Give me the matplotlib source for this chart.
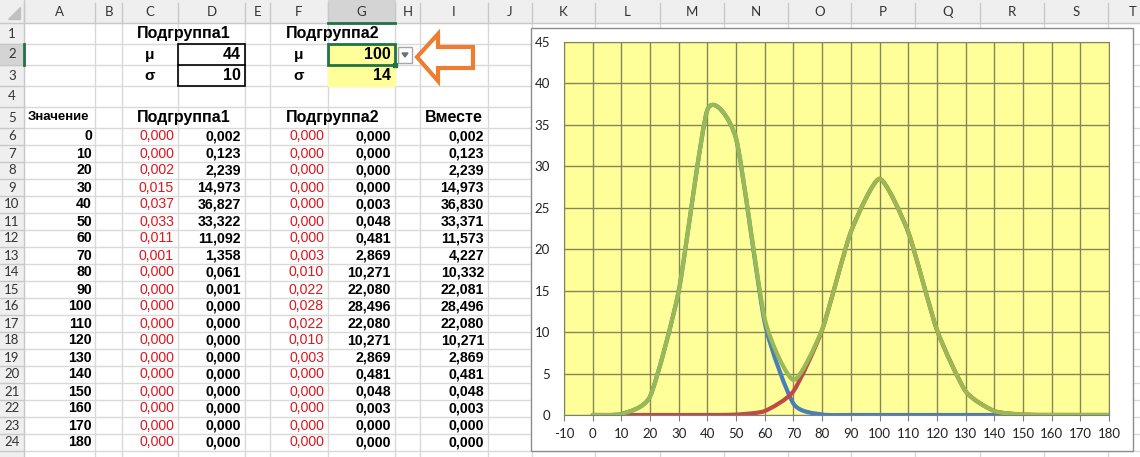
import numpy as np
import matplotlib
matplotlib.use("Agg")
import matplotlib.pyplot as plt
from matplotlib.patches import Rectangle, Polygon, PathPatch
from matplotlib.path import Path

plt.rcParams["axes.unicode_minus"] = False

# данные листа
values = [0, 10, 20, 30, 40, 50, 60, 70, 80, 90, 100, 110, 120, 130, 140, 150, 160, 170, 180]
dens1 = [0.000, 0.000, 0.002, 0.015, 0.037, 0.033, 0.011, 0.001, 0.000, 0.000,
         0.000, 0.000, 0.000, 0.000, 0.000, 0.000, 0.000, 0.000, 0.000]
group1 = [0.002, 0.123, 2.239, 14.973, 36.827, 33.322, 11.092, 1.358, 0.061, 0.001,
          0.000, 0.000, 0.000, 0.000, 0.000, 0.000, 0.000, 0.000, 0.000]
dens2 = [0.000, 0.000, 0.000, 0.000, 0.000, 0.000, 0.000, 0.003, 0.010, 0.022,
         0.028, 0.022, 0.010, 0.003, 0.000, 0.000, 0.000, 0.000, 0.000]
group2 = [0.000, 0.000, 0.000, 0.000, 0.003, 0.048, 0.481, 2.869, 10.271, 22.080,
          28.496, 22.080, 10.271, 2.869, 0.481, 0.048, 0.003, 0.000, 0.000]
total = [0.002, 0.123, 2.239, 14.973, 36.830, 33.371, 11.573, 4.227, 10.332, 22.081,
         28.496, 22.080, 10.271, 2.869, 0.481, 0.048, 0.003, 0.000, 0.000]
mu1, sigma1 = 44, 10
mu2, sigma2 = 100, 14

col_letters = list("ABCDEFGHIJKLMNOPQRST")
col_edges = [0, 24, 95, 122, 178, 245, 270, 328, 395, 420, 488, 532,
             595, 660, 724, 788, 851, 915, 980, 1044, 1108, 1160]
row_edges = [0, 23] + [23 + 21 * k for k in range(1, 6)] + [128 + 17 * k for k in range(1, 21)]

W, H = 1140, 457
fig = plt.figure(figsize=(W / 100, H / 100), dpi=100)
ax = fig.add_axes([0, 0, 1, 1])
ax.set_xlim(0, W)
ax.set_ylim(H, 0)
ax.axis("off")

cell_font = "Liberation Sans"
hdr_font = "Lato"
grid_c = "#d9d9d9"
sel_c = "#217346"


def row_mid(r):
    return (row_edges[r] + row_edges[r + 1]) / 2


def fmt(v):
    return f"{v:.3f}".replace(".", ",")


# сетка листа
for x in col_edges[2:]:
    ax.plot([x, x], [23, H], color=grid_c, lw=1, zorder=1)
for y in row_edges[2:]:
    ax.plot([24, W], [y, y], color=grid_c, lw=1, zorder=1)

# заголовки столбцов и строк
ax.add_patch(Rectangle((0, 0), W, 23, color="#efefef", zorder=2))
ax.add_patch(Rectangle((0, 0), 24, H, color="#efefef", zorder=2))
ax.add_patch(Rectangle((328, 0), 67, 23, color="#d4d4d4", zorder=2))
ax.add_patch(Rectangle((0, 44), 24, 21, color="#d4d4d4", zorder=2))
ax.plot([0, W], [23, 23], color="#c8c8c8", lw=1, zorder=3)
ax.plot([24, 24], [0, H], color="#c8c8c8", lw=1, zorder=3)
ax.plot([328, 395], [22.5, 22.5], color=sel_c, lw=2, zorder=4)
ax.plot([23.5, 23.5], [44, 65], color=sel_c, lw=2, zorder=4)
ax.add_patch(Polygon([(8, 19), (20, 19), (20, 7)], color="#c0c0c0", zorder=3))
for i, x in enumerate(col_edges[1:-1]):
    ax.plot([x, x], [3, 23], color="#c8c8c8", lw=1, zorder=3)
    cx = min((x + col_edges[i + 2]) / 2, 1133)
    ax.text(cx, 12, col_letters[i], ha="center", va="center", fontsize=9.5,
            family=hdr_font, color="#333333", zorder=5)
for r in range(1, 25):
    ax.plot([0, 24], [row_edges[r + 1]] * 2, color="#c8c8c8", lw=1, zorder=3)
    ax.text(12, row_mid(r), str(r), ha="center", va="center", fontsize=9.5,
            family=hdr_font, color="#333333", zorder=5)

# блок параметров
ax.add_patch(Rectangle((328, 44), 67, 42, color="#ffff99", zorder=2))
ax.add_patch(Rectangle((178, 44), 67, 42, fill=False, ec="black", lw=1.2, zorder=4))
ax.plot([178, 245], [65, 65], color="black", lw=1.2, zorder=4)
ax.add_patch(Rectangle((328, 44), 67, 21, fill=False, ec=sel_c, lw=2, zorder=4))
ax.add_patch(Rectangle((393, 63), 4, 4, color=sel_c, zorder=5))
ax.add_patch(Rectangle((398, 47), 14, 16, fc="white", ec="#a6a6a6", lw=1, zorder=5))
ax.add_patch(Polygon([(402, 53), (408, 53), (405, 57)], color="#707070", zorder=6))
arrow = [(417, 57), (438, 34), (438, 47), (473, 47), (473, 68), (438, 68), (438, 81)]
ax.add_patch(Polygon(arrow, fc="white", ec="#ed7d31", lw=3, joinstyle="miter", zorder=6))

bold = dict(family=cell_font, fontweight="bold", va="center", zorder=5)
ax.text(183.5, row_mid(1), "Подгруппа1", ha="center", fontsize=11.5, **bold)
ax.text(332.5, row_mid(1), "Подгруппа2", ha="center", fontsize=11.5, **bold)
ax.text(150, row_mid(2), "μ", ha="center", fontsize=11, **bold)
ax.text(150, row_mid(3), "σ", ha="center", fontsize=11, **bold)
ax.text(299, row_mid(2), "μ", ha="center", fontsize=11, **bold)
ax.text(299, row_mid(3), "σ", ha="center", fontsize=11, **bold)
ax.text(241, row_mid(2), str(mu1), ha="right", fontsize=11.5, **bold)
ax.text(241, row_mid(3), str(sigma1), ha="right", fontsize=11.5, **bold)
ax.text(391, row_mid(2), str(mu2), ha="right", fontsize=11.5, **bold)
ax.text(391, row_mid(3), str(sigma2), ha="right", fontsize=11.5, **bold)

ax.text(28, row_mid(5), "Значение", ha="left", fontsize=9.5, **bold)
ax.text(183.5, row_mid(5), "Подгруппа1", ha="center", fontsize=11.5, **bold)
ax.text(332.5, row_mid(5), "Подгруппа2", ha="center", fontsize=11.5, **bold)
ax.text(454, row_mid(5), "Вместе", ha="center", fontsize=11.5, **bold)

fs = 10.2
for i in range(len(values)):
    y = row_mid(6 + i)
    ax.text(92, y, str(values[i]), ha="right", fontsize=fs, **bold)
    ax.text(174, y, fmt(dens1[i]), ha="right", va="center", fontsize=fs,
            family=cell_font, color="#e0161d", zorder=5)
    ax.text(241, y, fmt(group1[i]), ha="right", fontsize=fs, **bold)
    ax.text(324, y, fmt(dens2[i]), ha="right", va="center", fontsize=fs,
            family=cell_font, color="#e0161d", zorder=5)
    ax.text(391, y, fmt(group2[i]), ha="right", fontsize=fs, **bold)
    ax.text(484, y, fmt(total[i]), ha="right", fontsize=fs, **bold)

# область диаграммы
ax.add_patch(Rectangle((531, 28), 602, 423, fc="white", ec="#8c8c8c", lw=1, zorder=7))

cax = fig.add_axes([564 / W, (H - 415) / H, 545 / W, 373 / H])
cax.set_facecolor("#ffff99")
cax.set_xlim(-10, 180)
cax.set_ylim(0, 45)
cax.set_xticks(range(-10, 181, 10))
cax.set_yticks(range(0, 46, 5))
cax.grid(True, color="#858558", lw=1)
cax.set_axisbelow(True)
for s in cax.spines.values():
    s.set_color("#858558")
cax.spines["bottom"].set_color("#7f7f7f")
cax.tick_params(axis="y", length=0, pad=10, labelsize=9.5, labelcolor="#222222")
cax.tick_params(axis="x", length=4, direction="out", color="#7f7f7f", pad=5,
                labelsize=9.5, labelcolor="#222222")
for lab in cax.get_xticklabels() + cax.get_yticklabels():
    lab.set_family(hdr_font)


# сглаженная линия как в Excel (кривые Безье через точки)
def smooth(ax_, xs, ys, color, k=0.1):
    pts = np.column_stack([xs, ys]).astype(float)
    n = len(pts)
    verts = [pts[0]]
    codes = [Path.MOVETO]
    for i in range(n - 1):
        p0 = pts[max(i - 1, 0)]
        p1 = pts[i]
        p2 = pts[i + 1]
        p3 = pts[min(i + 2, n - 1)]
        verts += [p1 + k * (p2 - p0), p2 - k * (p3 - p1), p2]
        codes += [Path.CURVE4] * 3
    ax_.add_patch(PathPatch(Path(verts, codes), fc="none", ec=color, lw=3,
                            capstyle="round", joinstyle="round", zorder=3))


smooth(cax, values, group1, "#4a7ebb")
smooth(cax, values, group2, "#be4b48")
smooth(cax, values, total, "#98b954")

fig.savefig("out.png", dpi=100)
